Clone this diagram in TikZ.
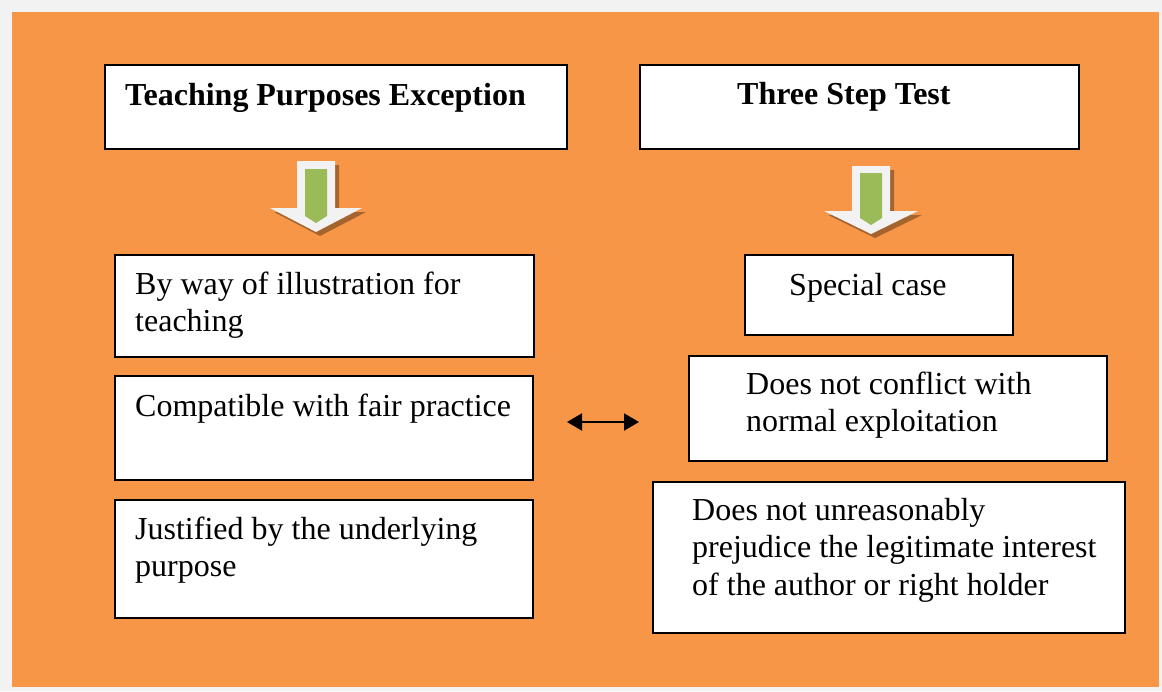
\documentclass[tikz,border=0pt]{standalone}
\usepackage{fontspec}
\setmainfont{Liberation Serif}
\usetikzlibrary{arrows.meta}
\definecolor{bgorange}{HTML}{F79646}
\definecolor{framegray}{HTML}{F2F2F2}
\definecolor{arrowgreen}{HTML}{9BBB59}
\definecolor{arrowwhite}{HTML}{F2F2F2}
\tikzset{
  box/.style={draw=black, line width=1.6pt, fill=white, inner sep=0pt, anchor=north west},
  boxshadow/.style={fill=black!70, draw=none},
  txt/.style={inner sep=0pt, anchor=base west, font=\fontsize{32}{37}\selectfont},
  btxt/.style={txt, font=\fontsize{32}{37}\selectfont\bfseries},
  blockshadow/.style={fill=black, opacity=0.33, draw=none},
  dblarrow/.style={line width=2pt, {Triangle[length=15pt,width=17pt]}-{Triangle[length=15pt,width=17pt]}}
}
\begin{document}
\begin{tikzpicture}[x=1pt,y=-1pt]
\useasboundingbox (0,0) rectangle (1162,691);
\fill[framegray] (0,0) rectangle (1162,691);
\fill[bgorange] (12,12) rectangle (1159,687);

% box shadows
\foreach \a/\b/\c/\d in {104/64/566/148, 639/64/1078/148, 114/254/533/356, 114/375/532/479, 114/499/532/617, 744/254/1012/334, 688/355/1106/460, 652/481/1124/632}{
  \fill[boxshadow] (\a+2,\b+2) rectangle (\c+2,\d+2);
}

% boxes
\node[box, minimum width=462pt, minimum height=84pt] (tpe) at (104,64) {};
\node[box, minimum width=439pt, minimum height=84pt] (tst) at (639,64) {};
\node[box, minimum width=419pt, minimum height=102pt] (illus) at (114,254) {};
\node[box, minimum width=418pt, minimum height=104pt] (fair) at (114,375) {};
\node[box, minimum width=418pt, minimum height=118pt] (just) at (114,499) {};
\node[box, minimum width=268pt, minimum height=80pt] (special) at (744,254) {};
\node[box, minimum width=418pt, minimum height=105pt] (normal) at (688,355) {};
\node[box, minimum width=472pt, minimum height=151pt] (prej) at (652,481) {};

% texts
\node[btxt] (tpet) at (125,105) {Teaching Purposes Exception};
\node[btxt] (tstt) at (737,104) {Three Step Test};
\node[txt] (illus1) at (135,294) {By way of illustration for};
\node[txt] (illus2) at (135,331) {teaching};
\node[txt] (fair1) at (135,416) {Compatible with fair practice};
\node[txt] (just1) at (135,539) {Justified by the underlying};
\node[txt] (just2) at (135,576) {purpose};
\node[txt] (special1) at (789,295) {Special case};
\node[txt] (normal1) at (746,394) {Does not conflict with};
\node[txt] (normal2) at (746,431) {normal exploitation};
\node[txt] (prej1) at (692,520) {Does not unreasonably};
\node[txt] (prej2) at (692,557) {prejudice the legitimate interest};
\node[txt] (prej3) at (692,595) {of the author or right holder};

% block arrows
\foreach \cx/\top/\hy/\tip/\hw/\gtop/\gend/\gtip in {316/161/208/232/46/169/216/223, 871/166/211/234/47/173/218/225}{
  \fill[blockshadow] (\cx-19+4,\top+4) -- (\cx+19+4,\top+4) -- (\cx+19+4,\hy+4) -- (\cx+\hw+4,\hy+4) -- (\cx+4,\tip+4) -- (\cx-\hw+4,\hy+4) -- (\cx-19+4,\hy+4) -- cycle;
  \fill[arrowwhite] (\cx-19,\top) -- (\cx+19,\top) -- (\cx+19,\hy) -- (\cx+\hw,\hy) -- (\cx,\tip) -- (\cx-\hw,\hy) -- (\cx-19,\hy) -- cycle;
  \fill[arrowgreen] (\cx-11,\gtop) -- (\cx+11,\gtop) -- (\cx+11,\gend) -- (\cx,\gtip) -- (\cx-11,\gend) -- cycle;
}

% double arrow
\coordinate (dl) at (567,422);
\coordinate (dr) at (639,422);
\draw[dblarrow] (dl) -- (dr);
\end{tikzpicture}
\end{document}
